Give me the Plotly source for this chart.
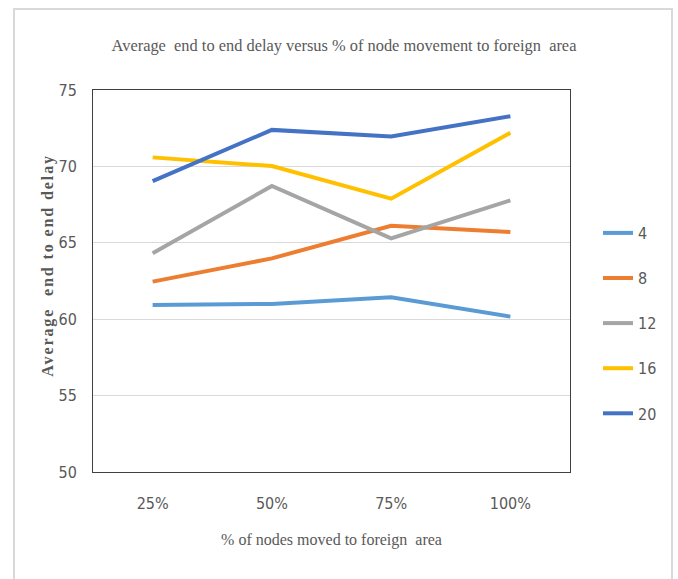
import plotly.graph_objects as go

# Share of nodes moved to the foreign area (x categories)
categories = ["25%", "50%", "75%", "100%"]

# Average end-to-end delay per number of nodes
series_names = ["4", "8", "12", "16", "20"]
delay_4 = [60.93, 61.00, 61.44, 60.17]
delay_8 = [62.46, 63.98, 66.11, 65.70]
delay_12 = [64.31, 68.72, 65.29, 67.78]
delay_16 = [70.59, 70.02, 67.89, 72.20]
delay_20 = [69.04, 72.39, 71.96, 73.28]

y_ticks = [50, 55, 60, 65, 70, 75]

series_values = [delay_4, delay_8, delay_12, delay_16, delay_20]
colors = ["#5B9BD5", "#ED7D31", "#A5A5A5", "#FFC000", "#4472C4"]

W, H = 678, 579
L, R, T, B = 93, 108, 90, 107
plot_w = W - L - R
plot_h = H - T - B

sans = "DejaVu Sans Condensed, Liberation Sans Narrow, Liberation Sans, sans-serif"
serif = "Liberation Serif, Times New Roman, serif"
grey_text = "#595959"

fig = go.Figure()
for name, vals, col in zip(series_names, series_values, colors):
    fig.add_trace(go.Scatter(
        x=categories, y=vals, name=name, mode="lines",
        line=dict(color=col, width=4),
        legendgroup=name,
    ))


# Pixel -> paper conversion (paper spans the plot area)
def px_x(v):
    return (v - L) / plot_w


def px_y(v):
    return 1 - (v - T) / plot_h


# Outer chart frame
fig.add_shape(
    type="rect", xref="paper", yref="paper",
    x0=px_x(14), x1=px_x(672), y0=px_y(590), y1=px_y(9),
    line=dict(color="#D9D9D9", width=2), fillcolor="rgba(0,0,0,0)",
    layer="below",
)

# Vertical axis title
fig.add_annotation(
    text="<b>Average&nbsp; end to end delay</b>",
    xref="paper", yref="paper", x=px_x(48), y=px_y(266),
    xanchor="center", yanchor="middle", textangle=-90, showarrow=False,
    font=dict(family=serif, size=16, color=grey_text),
)

fig.update_layout(
    width=W, height=H,
    margin=dict(l=L, r=R, t=T, b=B, autoexpand=False),
    paper_bgcolor="white", plot_bgcolor="white",
    title=dict(
        text="Average&nbsp; end to end delay versus % of node movement to foreign&nbsp; area",
        x=344 / W, xanchor="center", y=1 - 45 / H, yanchor="middle",
        font=dict(family=serif, size=16.4, color=grey_text),
    ),
    xaxis=dict(
        type="category",
        showgrid=False, zeroline=False,
        showline=True, linecolor="#404040", linewidth=1, mirror=True,
        ticks="outside", ticklen=17, tickcolor="rgba(0,0,0,0)",
        tickfont=dict(family=sans, size=16, color=grey_text),
        title=dict(text="% of nodes moved to foreign&nbsp; area", standoff=21,
                   font=dict(family=serif, size=16, color=grey_text)),
        range=[-0.5, 3.5],
    ),
    yaxis=dict(
        range=[50, 75], tickvals=y_ticks,
        showgrid=True, gridcolor="#D9D9D9", gridwidth=1, zeroline=False,
        showline=True, linecolor="#404040", linewidth=1, mirror=True,
        ticks="outside", ticklen=12, tickcolor="rgba(0,0,0,0)",
        tickfont=dict(family=sans, size=16, color=grey_text),
    ),
    legend=dict(
        x=px_x(598), xanchor="left", y=px_y(216), yanchor="top",
        font=dict(family=sans, size=16, color=grey_text),
        tracegroupgap=21.3, bgcolor="rgba(0,0,0,0)",
    ),
    showlegend=True,
)

# Widen the letter spacing of the vertical axis title
spacing_js = (
    "var a = document.querySelectorAll('.annotation-text');"
    "a.forEach(function(t){ t.setAttribute('letter-spacing', '1.9px'); });"
)

fig.write_html("out.html", post_script=spacing_js)
